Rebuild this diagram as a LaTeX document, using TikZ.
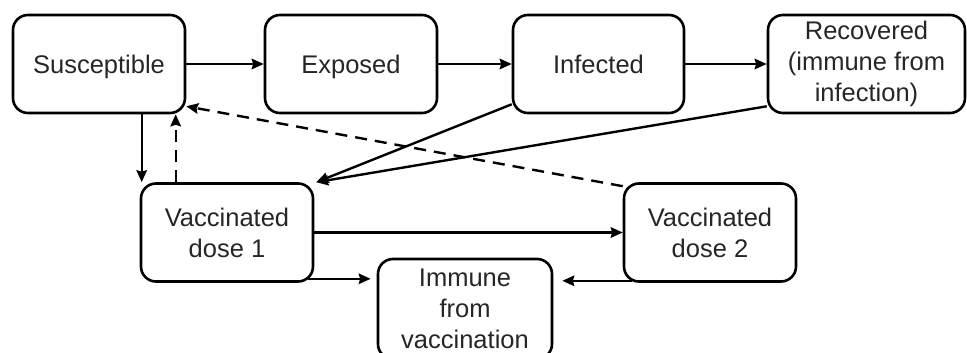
\documentclass[tikz,border=0pt]{standalone}
\usepackage{fontspec}
\setmainfont{Liberation Sans}
\usepackage{tikz}
\usetikzlibrary{positioning, arrows.meta, shapes}

\begin{document}
\begin{tikzpicture}[
    x=1pt, y=-1pt,
    % Define specific styles to match the drawing
    stage/.style={
        rectangle,
        rounded corners=15pt,
        draw=black,
        line width=2.6pt,
        text=black!85,
        font=\fontsize{25.5}{31}\selectfont,
        minimum width=172pt,
        minimum height=98pt,
        inner sep=2pt,
        align=center
    },
    oneline/.style={
        text height=22pt,
        text depth=2pt
    },
    flow/.style={
        draw=black,
        line width=2.4pt,
        -{Stealth[length=12pt,width=10.5pt,inset=1.5pt]}
    },
    wane/.style={
        flow,
        dash pattern=on 12pt off 8pt
    }
]

    % --- Frame ---
    \useasboundingbox (0,0) rectangle (967,353);

    % --- Nodes ---
    % Top row
    \node[stage, oneline] (sus) at (99, 64) {Susceptible};
    \node[stage, oneline] (exp) at (351, 64) {Exposed};
    \node[stage, oneline, minimum width=171pt] (inf) at (598.5, 64) {Infected};
    \node[stage, minimum width=197pt] (rec) at (866.5, 64) {Recovered\\(immune from\\infection)};

    % Bottom row
    \node[stage] (vac1) at (227, 232.5) {Vaccinated\\dose 1};
    \node[stage] (vac2) at (710, 232.5) {Vaccinated\\dose 2};
    \node[stage, minimum width=174pt, minimum height=100pt] (imm) at (465, 309) {Immune\\from\\vaccination};

    % --- Connectors ---
    % Infection chain
    \draw[flow] (sus) -- (exp);
    \draw[flow] (exp) -- (inf);
    \draw[flow] (inf) -- (rec);

    % Into first dose
    \draw[flow] ([xshift=130pt]sus.south west) -- ([xshift=2pt]vac1.north west);
    \draw[flow] ([yshift=10pt]inf.south west) -- ([xshift=2pt]vac1.north east);
    \draw[flow] ([yshift=8pt]rec.south west) -- ([xshift=2pt]vac1.north east);

    % Vaccination
    \draw[flow] (vac1) -- (vac2);
    \draw[flow] ([xshift=-6pt, yshift=4pt]vac1.south east) -- ([xshift=-6pt, yshift=4pt]vac1.south east -| imm.west);
    \draw[flow] ([xshift=9pt, yshift=2pt]vac2.south west) -- ([xshift=9pt, yshift=2pt]vac2.south west -| imm.east);

    % Waning (dashed)
    \draw[wane] ([xshift=36pt]vac1.north west) -- ([xshift=36pt]vac1.north west |- sus.south);
    \draw[wane] ([yshift=-4pt]vac2.north west) -- ([yshift=8pt]sus.south east);

\end{tikzpicture}
\end{document}
